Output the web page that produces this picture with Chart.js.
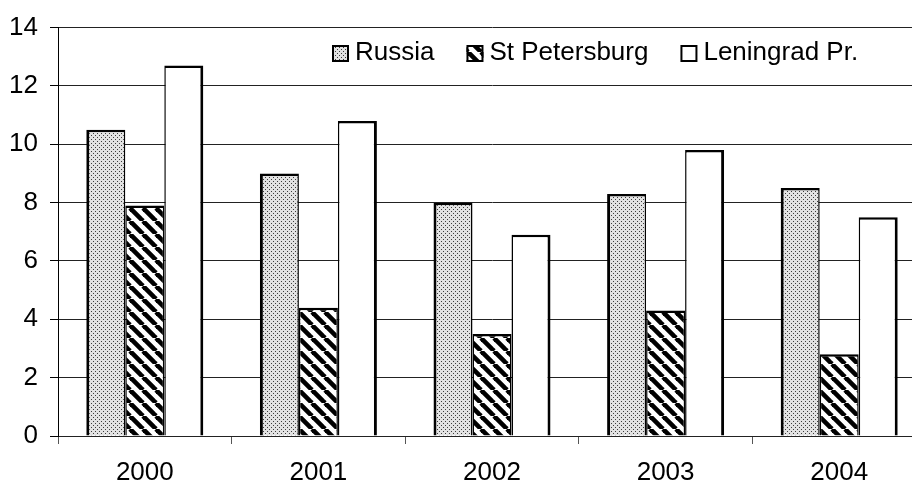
<!DOCTYPE html>
<html>
<head>
<meta charset="utf-8">
<script src="https://cdn.jsdelivr.net/npm/chart.js@4/dist/chart.umd.min.js"></script>
<style>
  html, body { margin: 0; padding: 0; overflow: hidden; background: #fff; }
  #wrap { width: 930px; height: 486px; }
</style>
</head>
<body>
<div id="wrap"><canvas id="rateChart" width="930" height="486"></canvas></div>
<script>
const years = ['2000', '2001', '2002', '2003', '2004'];
const seriesNames = ['Russia', 'St Petersburg', 'Leningrad Pr.'];
const russia = [10.5, 9.0, 8.0, 8.3, 8.5];
const stPetersburg = [7.9, 4.4, 3.5, 4.3, 2.8];
const leningradPr = [12.7, 10.8, 6.9, 9.8, 7.5];
const yTicks = [0, 2, 4, 6, 8, 10, 12, 14];

const FONT = '"Liberation Sans", Arial, sans-serif';

// fill patterns for the bars
function dotPattern() {
    const c = document.createElement('canvas');
    c.width = 4; c.height = 4;
    const g = c.getContext('2d');
    g.fillStyle = '#e2e2e2';
    g.fillRect(0, 0, 4, 4);
    g.fillStyle = '#3c3c3c';
    g.fillRect(1, 1, 1, 1);
    g.fillRect(3, 3, 1, 1);
    return g.createPattern(c, 'repeat');
}

function stripePattern() {
    const s = 13;
    const c = document.createElement('canvas');
    c.width = s; c.height = s;
    const g = c.getContext('2d');
    g.fillStyle = '#fff';
    g.fillRect(0, 0, s, s);
    g.strokeStyle = '#000';
    g.lineWidth = 4.6;
    for (const x0 of [-s, 0, s]) {
        g.beginPath();
        g.moveTo(x0, 0);
        g.lineTo(x0 + s, s);
        g.stroke();
    }
    return g.createPattern(c, 'repeat');
}

const fills = [dotPattern(), stripePattern(), '#ffffff'];
// outer edges of each group thicker, shared edges split between neighbours
const borders = [
    { left: 3, right: 1.5, top: 2.5, bottom: 0 },
    { left: 1.5, right: 1.5, top: 2.5, bottom: 0 },
    { left: 1.5, right: 3, top: 2.5, bottom: 0 }
];

// legend drawn inside the plot, top right
const insideLegend = {
    id: 'insideLegend',
    afterDraw(chart) {
        const ctx = chart.ctx;
        ctx.save();
        ctx.font = '26px ' + FONT;
        ctx.textBaseline = 'middle';
        ctx.textAlign = 'left';
        let x = 332;
        const y = 53;
        chart.data.datasets.forEach((ds) => {
            ctx.fillStyle = ds.backgroundColor;
            ctx.fillRect(x, y - 8, 17, 17);
            ctx.strokeStyle = '#000';
            ctx.lineWidth = 2;
            ctx.strokeRect(x + 1, y - 7, 15, 15);
            ctx.fillStyle = '#000';
            ctx.fillText(ds.label, x + 23, y);
            x += 23 + ctx.measureText(ds.label).width + 32;
        });
        ctx.restore();
    }
};

new Chart(document.getElementById('rateChart').getContext('2d'), {
    type: 'bar',
    data: {
        labels: years,
        datasets: [russia, stPetersburg, leningradPr].map((vals, i) => ({
            label: seriesNames[i],
            data: vals,
            backgroundColor: fills[i],
            borderColor: '#000',
            borderWidth: borders[i],
            borderSkipped: false,
            categoryPercentage: 0.674,
            barPercentage: 1.0
        }))
    },
    options: {
        responsive: false,
        animation: false,
        layout: { padding: { top: 22, right: 4, left: 0, bottom: 0 } },
        plugins: {
            legend: { display: false },
            tooltip: { enabled: false }
        },
        scales: {
            x: {
                grid: {
                    offset: true,
                    drawOnChartArea: false,
                    drawTicks: true,
                    tickLength: 8,
                    color: '#555',
                    lineWidth: 1
                },
                border: { display: true, color: '#222', width: 1 },
                ticks: { color: '#000', font: { family: FONT, size: 26 }, padding: 13 },
                afterFit(scale) { scale.height = 50; }
            },
            y: {
                min: 0,
                max: 14,
                afterBuildTicks(scale) { scale.ticks = yTicks.map(v => ({ value: v })); },
                grid: {
                    color: '#222',
                    lineWidth: 1,
                    drawTicks: true,
                    tickLength: 8,
                    tickColor: '#000'
                },
                border: { display: true, color: '#000', width: 1 },
                ticks: { color: '#000', font: { family: FONT, size: 26 }, padding: 12 },
                afterFit(scale) { scale.width = 58; }
            }
        }
    },
    plugins: [insideLegend]
});
</script>
</body>
</html>
